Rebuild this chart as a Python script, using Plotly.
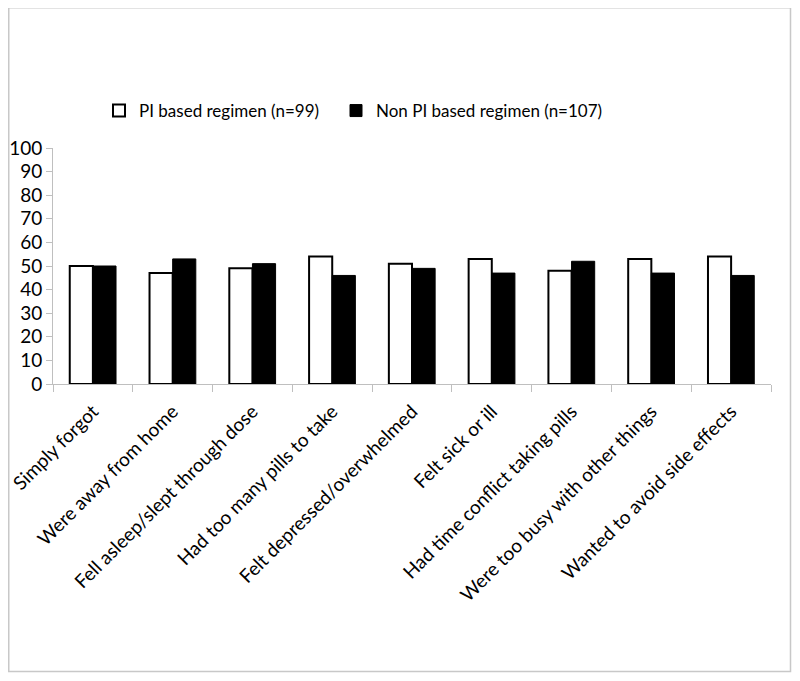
import plotly.graph_objects as go

categories = [
    "Simply forgot",
    "Were away from home",
    "Fell asleep/slept through dose",
    "Had too many pills to take",
    "Felt depressed/overwhelmed",
    "Felt sick or ill",
    "Had time conflict taking pills",
    "Were too busy with other things",
    "Wanted to avoid side effects",
]
pi_values = [50, 47, 49, 54, 51, 53, 48, 53, 54]
non_pi_values = [50, 53, 51, 46, 49, 47, 52, 47, 46]
series_names = ["PI based regimen (n=99)", "Non PI based regimen (n=107)"]
y_ticks = [0, 10, 20, 30, 40, 50, 60, 70, 80, 90, 100]

FONT = "Lato, 'Open Sans', sans-serif"

fig = go.Figure()
fig.add_trace(go.Bar(
    x=categories, y=pi_values, name=series_names[0],
    marker=dict(color="white", line=dict(color="black", width=2)),
    legend="legend",
))
fig.add_trace(go.Bar(
    x=categories, y=non_pi_values, name=series_names[1],
    marker=dict(color="black", line=dict(color="black", width=1)),
    legend="legend2",
))

# page body has an 8px margin; figure coordinates = screen - 8
OFF = 8
W, H = 792, 673
L, R, T, B = 45, 29, 140, 297
pw = W - L - R
ph = H - T - B

def sx(px):  # screen x -> paper
    return (px - OFF - L) / pw

def sy(py):  # screen y -> paper
    return (H - B - (py - OFF)) / ph

legend_style = dict(
    orientation="h", xanchor="left", yanchor="middle",
    font=dict(size=17, family=FONT), bgcolor="rgba(0,0,0,0)",
)

fig.update_layout(
    width=W, height=H,
    margin=dict(l=L, r=R, t=T, b=B, autoexpand=False),
    paper_bgcolor="white", plot_bgcolor="white",
    barmode="group", bargap=0.42, bargroupgap=0,
    font=dict(family=FONT, color="black"),
    showlegend=True,
    legend=dict(x=sx(99), y=sy(111), **legend_style),
    legend2=dict(x=sx(336), y=sy(111), **legend_style),
    xaxis=dict(
        tickangle=-45,
        tickfont=dict(size=19, family=FONT),
        showline=True, linecolor="#bfbfbf", linewidth=1,
        ticks="outside", tickson="boundaries", ticklen=7, tickcolor="#bfbfbf",
        ticklabelstandoff=8,
        showgrid=False,
    ),
    yaxis=dict(
        range=[0, 100], tickvals=y_ticks,
        tickfont=dict(size=19, family=FONT),
        showline=True, linecolor="#bfbfbf", linewidth=1,
        ticks="outside", ticklen=6, tickcolor="#bfbfbf",
        showgrid=False, zeroline=False,
    ),
    shapes=[dict(
        type="rect", xref="paper", yref="paper",
        x0=sx(8.75), x1=sx(790.5),
        y0=sy(671.5), y1=sy(7.75),
        line=dict(color="#c8c8c8", width=1.5), fillcolor="rgba(0,0,0,0)",
        layer="below",
    )],
)

fig.write_html("out.html")
